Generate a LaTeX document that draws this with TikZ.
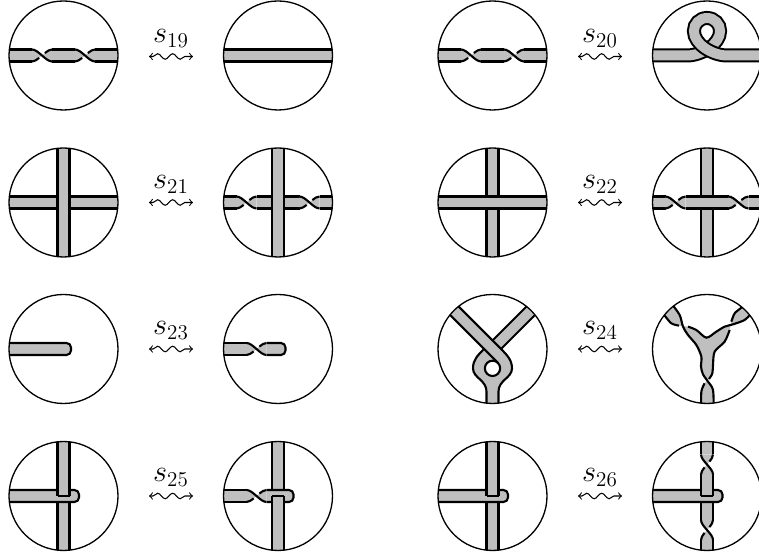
\documentclass[tikz,border=0pt]{standalone}
\usetikzlibrary{decorations.pathmorphing}
\tikzset{
  ribbon/.style={fill=gray!50},
  rline/.style={line width=1.2pt},
  rim/.style={line width=0.75pt},
  wavy/.style={<->,line width=0.6pt,decorate,decoration={snake,amplitude=0.055cm,segment length=0.3cm,pre length=0.08cm,post length=0.08cm}},
  twist/.pic={
    \fill[ribbon] (-.2,.12) .. controls (-.073,.12) and (.073,-.12) .. (.2,-.12) -- (.2,.12) .. controls (.073,.12) and (-.073,-.12) .. (-.2,-.12) -- cycle;
    \draw[rline] (-.2,.12) .. controls (-.073,.12) and (.073,-.12) .. (.2,-.12);
    \draw[rline] (-.2,-.12) .. controls (-.155,-.12) and (-.106,-.089) .. (-.057,-.049);
    \draw[rline] (.057,.049) .. controls (.106,.089) and (.155,.12) .. (.2,.12);
  }
}
\newcommand{\hstrip}[2]{\fill[ribbon] (#1,-.12) rectangle (#2,.12); \draw[rline] (#1,.12) -- (#2,.12) (#1,-.12) -- (#2,-.12);}
\newcommand{\vstrip}[2]{\fill[ribbon] (-.12,#1) rectangle (.12,#2); \draw[rline] (.12,#1) -- (.12,#2) (-.12,#1) -- (-.12,#2);}
\newcommand{\hend}[1]{\filldraw[ribbon,rline,rounded corners=.09cm] (#1,.12) -- (.31,.12) -- (.31,-.12) -- (#1,-.12);}
\newcommand{\disc}[3]{\begin{scope}[shift={(#1,#2)}]\begin{scope}\clip (0,0) circle (1.09); #3\end{scope}\draw[rim] (0,0) circle (1.09);\end{scope}}
\newcommand{\swap}[3]{\path (#1,#2) ++(-.44,0) coordinate (l#3) ++(.88,0) coordinate (r#3);
  \draw[wavy] (l#3) -- (r#3);
  \path (#1,#2) ++(0,.28) node[anchor=base,font=\LARGE,inner sep=0pt] (s#3) {$s_{#3}$};}
\begin{document}
\begin{tikzpicture}
\useasboundingbox (0,0) rectangle (15.18,11.12);
% row one
\disc{1.27}{10.01}{\hstrip{-1.2}{-.63} \pic at (-.43,0) {twist}; \hstrip{-.23}{.23} \pic at (.43,0) {twist}; \hstrip{.63}{1.2}}
\swap{3.42}{9.99}{19}
\disc{5.56}{10.01}{\hstrip{-1.2}{1.2}}
\disc{9.85}{10.01}{\hstrip{-1.2}{-.63} \pic at (-.43,0) {twist}; \hstrip{-.23}{.23} \pic at (.43,0) {twist}; \hstrip{.63}{1.2}}
\swap{12}{9.99}{20}
\disc{14.14}{10.01}{
  \draw[line width=.28cm] (-1.2,0) -- (-.4,0) .. controls (-.12,0) and (.262,.22) .. (.262,.49) .. controls (.262,.63) and (.15,.75) .. (0,.75) -- (-.03,.75);
  \draw[line width=.2cm,gray!50] (-1.2,0) -- (-.4,0) .. controls (-.12,0) and (.262,.22) .. (.262,.49) .. controls (.262,.63) and (.15,.75) .. (0,.75);
  \draw[line width=.28cm] (0,.75) .. controls (-.15,.75) and (-.262,.63) .. (-.262,.49) .. controls (-.262,.22) and (.12,0) .. (.4,0) -- (1.2,0);
  \draw[line width=.2cm,gray!50] (0,.75) .. controls (-.15,.75) and (-.262,.63) .. (-.262,.49) .. controls (-.262,.22) and (.12,0) .. (.4,0) -- (1.2,0);
  \draw[line width=.2cm,gray!50] (-.04,.75) -- (.04,.75);
}
% row two
\disc{1.27}{7.07}{\hstrip{-1.2}{1.2} \vstrip{-1.2}{1.2}}
\swap{3.42}{7.07}{21}
\disc{5.56}{7.07}{\hstrip{-1.2}{-.83} \pic at (-.63,0) {twist}; \hstrip{-.43}{.43} \pic at (.63,0) {twist}; \hstrip{.83}{1.2} \vstrip{-1.2}{1.2}}
\disc{9.85}{7.07}{\vstrip{-1.2}{1.2} \hstrip{-1.2}{1.2}}
\swap{12}{7.07}{22}
\disc{14.14}{7.07}{\vstrip{-1.2}{1.2} \hstrip{-1.2}{-.83} \pic at (-.63,0) {twist}; \hstrip{-.43}{.43} \pic at (.63,0) {twist}; \hstrip{.83}{1.2}}
% row three
\disc{1.27}{4.14}{\begin{scope}[xshift=-.16cm]\hend{-1.2}\end{scope}}
\swap{3.42}{4.14}{23}
\disc{5.56}{4.14}{\hstrip{-1.2}{-.63} \pic at (-.43,0) {twist}; \begin{scope}[xshift=-.16cm]\hend{-.07}\end{scope}}
\disc{9.85}{4.14}{
  \fill[ribbon] (.75,.92) -- (.92,.75) -- (.17,0) -- (0,.17) -- cycle;
  \fill[ribbon] (-.75,.92) -- (.1,.07) .. controls (.27,-.1) and (.39,-.2) .. (.39,-.387) .. controls (.39,-.58) and (.12,-.62) .. (.12,-.85) -- (.12,-1.2) -- (-.12,-1.2) -- (-.12,-.85) .. controls (-.12,-.62) and (-.39,-.58) .. (-.39,-.387) .. controls (-.39,-.22) and (-.3,-.13) .. (-.17,0) -- (-.92,.75) -- cycle;
  \draw[rline] (.75,.92) -- (0,.17) (.92,.75) -- (.17,0);
  \draw[rline] (-.75,.92) -- (.1,.07) .. controls (.27,-.1) and (.39,-.2) .. (.39,-.387) .. controls (.39,-.58) and (.12,-.62) .. (.12,-.85) -- (.12,-1.2);
  \draw[rline] (-.17,0) .. controls (-.3,-.13) and (-.39,-.22) .. (-.39,-.387) .. controls (-.39,-.58) and (-.12,-.62) .. (-.12,-.85) -- (-.12,-1.2);
  \draw[rline] (-.92,.75) -- (.108,-.278);
  \filldraw[fill=white,rline] (0,-.387) circle (.153);
}
\swap{12}{4.14}{24}
\disc{14.14}{4.14}{
  \fill[ribbon] plot[smooth] coordinates {(-.713,.913) (-.547,.68) (-.48,.447) (-.38,.28) (-.213,.08) (-.113,-.153) (-.12,-.353) (-.08,-.507) (.02,-.653) (.12,-.82) (.133,-1.2)}
    -- plot[smooth] coordinates {(-.113,-1.2) (-.113,-.853) (-.047,-.687) (.04,-.6) (.107,-.487) (.12,-.32) (.153,-.053) (.353,.147) (.453,.38) (.487,.547) (.553,.713) (.687,.827) (.76,.92)}
    -- plot[smooth] coordinates {(.95,.78) (.867,.693) (.753,.58) (.52,.493) (.353,.447) (.187,.347) (-.013,.227) (-.213,.38) (-.38,.447) (-.56,.467) (-.713,.513) (-.847,.667) (-.93,.75)} -- cycle;
  \draw[rline] plot[smooth] coordinates {(-.713,.913) (-.547,.68) (-.48,.447) (-.38,.28) (-.213,.08) (-.113,-.153) (-.12,-.353) (-.08,-.507) (.02,-.653) (.12,-.82) (.133,-1.2)};
  \draw[rline] plot[smooth] coordinates {(-.93,.75) (-.847,.667) (-.713,.513) (-.56,.467)};
  \draw[rline] plot[smooth] coordinates {(-.38,.447) (-.213,.38) (-.013,.227) (.187,.347) (.353,.447) (.52,.493) (.753,.58) (.867,.693) (.95,.78)};
  \draw[rline] plot[smooth] coordinates {(.76,.92) (.687,.827) (.553,.713) (.487,.547)};
  \draw[rline] plot[smooth] coordinates {(.453,.38) (.353,.147) (.153,-.053) (.12,-.32) (.107,-.487) (.04,-.6)};
  \draw[rline] plot[smooth] coordinates {(-.047,-.687) (-.113,-.853) (-.113,-1.2)};
}
% row four
\disc{1.27}{1.2}{\vstrip{-1.2}{-.12} \hend{-1.2} \vstrip{0}{1.2} \draw[line width=.6pt] (-.12,0) -- (.12,0);}
\swap{3.42}{1.2}{25}
\disc{5.56}{1.2}{\vstrip{.12}{1.2} \hstrip{-1.2}{-.63} \pic at (-.43,0) {twist}; \hend{-.23} \vstrip{-1.2}{0} \draw[line width=.6pt] (-.12,0) -- (.12,0);}
\disc{9.85}{1.2}{\vstrip{-1.2}{-.12} \hend{-1.2} \vstrip{0}{1.2} \draw[line width=.6pt] (-.12,0) -- (.12,0);}
\swap{12}{1.2}{26}
\disc{14.14}{1.2}{
  \vstrip{-1.2}{-.88} \pic[rotate=90,yscale=-1] at (0,-.68) {twist}; \vstrip{-.48}{-.12}
  \hend{-1.2}
  \vstrip{0}{.43} \pic[rotate=90,yscale=-1] at (0,.63) {twist}; \vstrip{.83}{1.2}
  \draw[line width=.6pt] (-.12,0) -- (.12,0);
}
\end{tikzpicture}
\end{document}
